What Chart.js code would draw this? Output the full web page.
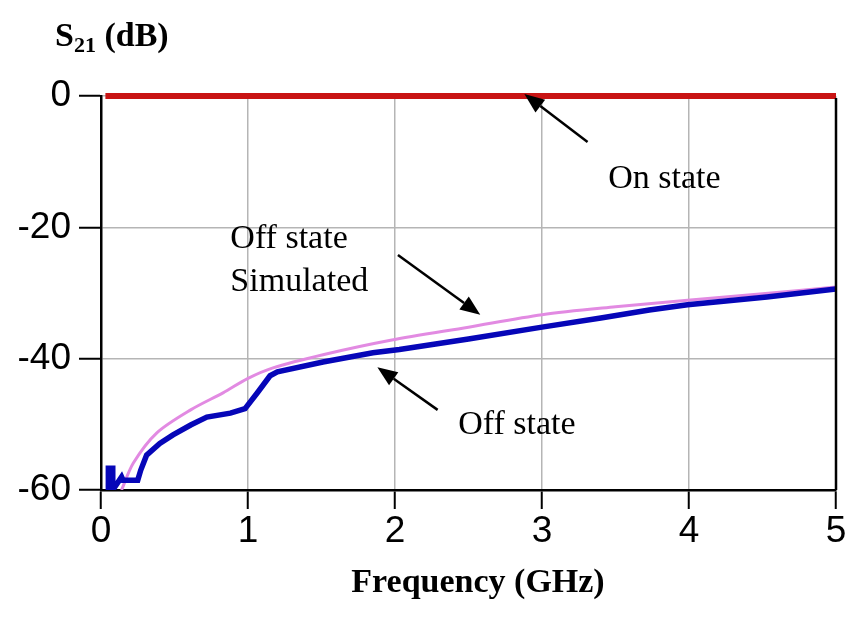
<!DOCTYPE html>
<html lang="en">
  <head>
    <title>S21 vs frequency</title>
    <meta charset="UTF-8" />
    <meta name="viewport" content="width=device-width" />
    <script src="https://cdn.jsdelivr.net/npm/chart.js"></script>
    <style>
      html, body { margin: 0; padding: 0; background: #fff; }
      .block { width: 845px; height: 619px; }
    </style>
  </head>
  <body>
    <div class="block">
      <canvas id="chart"></canvas>
    </div>

    <script>
      // data (GHz, dB)
      const onFreq = [0.03, 5];
      const onS21 = [0, 0];

      const simFreq = [0.14, 0.22, 0.38, 0.61, 0.83, 1.0, 1.17, 1.51, 1.97, 2.5, 3.0, 3.5, 3.99, 4.5, 5.0];
      const simS21 = [-60, -55.9, -51.3, -47.8, -45.2, -43.0, -41.4, -39.4, -37.2, -35.2, -33.3, -32.1, -31.1, -30.1, -29.1];

      const offFreq = [0.05, 0.05, 0.08, 0.08, 0.14, 0.15, 0.25, 0.27, 0.31, 0.4, 0.49, 0.61, 0.72, 0.88, 0.98, 1.06, 1.15, 1.2, 1.51, 1.85, 2.03, 2.5, 3.0, 3.4, 3.73, 3.99, 4.53, 5.0];
      const offS21 = [-60, -56.7, -56.7, -60, -58, -58.5, -58.5, -57, -54.7, -52.9, -51.6, -50.1, -48.9, -48.3, -47.6, -45.3, -42.6, -42.0, -40.5, -39.1, -38.6, -37.0, -35.2, -33.8, -32.6, -31.8, -30.6, -29.4];

      const xTicks = [0, 1, 2, 3, 4, 5];
      const yTicks = [0, -20, -40, -60];

      // labels and arrows in data units
      const notes = [
        { text: 'On state', x: 3.45, y: -14.0 },
        { text: 'Off state', x: 0.88, y: -23.2 },
        { text: 'Simulated', x: 0.88, y: -29.7 },
        { text: 'Off state', x: 2.43, y: -51.5 },
      ];
      const arrows = [
        { from: [3.31, -7.0], to: [2.88, 0.3] },
        { from: [2.02, -24.2], to: [2.58, -33.3] },
        { from: [2.29, -47.8], to: [1.88, -41.3] },
      ];

      const toPts = (xs, ys) => xs.map((x, i) => ({ x: x, y: ys[i] }));

      const annotate = {
        id: 'annotate',
        afterDraw(chart) {
          const c = chart.ctx;
          const xs = chart.scales.x;
          const ys = chart.scales.y;
          const area = chart.chartArea;
          c.save();
          // right frame line
          c.strokeStyle = '#000';
          c.lineWidth = 2.5;
          c.beginPath();
          c.moveTo(area.right, area.top + 2);
          c.lineTo(area.right, area.bottom);
          c.stroke();

          // axis titles
          c.fillStyle = '#000';
          c.textBaseline = 'alphabetic';
          c.font = 'bold 34px "Liberation Serif"';
          c.textAlign = 'left';
          c.fillText('S', 55, 46);
          const sw = c.measureText('S').width;
          c.font = 'bold 22px "Liberation Serif"';
          c.fillText('21', 55 + sw, 52);
          const nw = c.measureText('21').width;
          c.font = 'bold 34px "Liberation Serif"';
          c.fillText(' (dB)', 55 + sw + nw, 46);

          c.font = 'bold 34px "Liberation Serif"';
          c.textAlign = 'center';
          c.fillText('Frequency (GHz)', 478, 592);

          // notes
          c.font = '34px "Liberation Serif"';
          c.textAlign = 'left';
          notes.forEach((n) => {
            c.fillText(n.text, xs.getPixelForValue(n.x), ys.getPixelForValue(n.y));
          });

          // arrows
          c.lineWidth = 2.5;
          arrows.forEach((a) => {
            const x0 = xs.getPixelForValue(a.from[0]);
            const y0 = ys.getPixelForValue(a.from[1]);
            const x1 = xs.getPixelForValue(a.to[0]);
            const y1 = ys.getPixelForValue(a.to[1]);
            const ang = Math.atan2(y1 - y0, x1 - x0);
            const len = 20;
            const bx = x1 - len * Math.cos(ang);
            const by = y1 - len * Math.sin(ang);
            c.beginPath();
            c.moveTo(x0, y0);
            c.lineTo(bx, by);
            c.stroke();
            c.beginPath();
            c.moveTo(x1, y1);
            c.lineTo(bx + 8 * Math.sin(ang), by - 8 * Math.cos(ang));
            c.lineTo(bx - 8 * Math.sin(ang), by + 8 * Math.cos(ang));
            c.closePath();
            c.fill();
          });
          c.restore();
        },
      };

      const ctx = document.getElementById('chart').getContext('2d');
      const chart = new Chart(ctx, {
        type: 'line',
        data: {
          datasets: [
            {
              label: 'Off state',
              data: toPts(offFreq, offS21),
              borderColor: '#0606b8',
              borderWidth: 5.5,
              pointRadius: 0,
              tension: 0,
            },
            {
              label: 'Off state simulated',
              data: toPts(simFreq, simS21),
              borderColor: '#e28ae2',
              borderWidth: 3,
              pointRadius: 0,
              tension: 0.3,
            },
            {
              label: 'On state',
              data: toPts(onFreq, onS21),
              borderColor: '#c81414',
              borderWidth: 6,
              pointRadius: 0,
              tension: 0,
              clip: false,
            },
          ],
        },
        options: {
          responsive: true,
          maintainAspectRatio: false,
          animation: false,
          layout: { padding: { left: 0, right: 9, top: 96, bottom: 0 } },
          plugins: {
            legend: { display: false },
            tooltip: { enabled: false },
          },
          scales: {
            x: {
              type: 'linear',
              min: 0,
              max: 5,
              afterBuildTicks: (s) => { s.ticks = xTicks.map((v) => ({ value: v })); },
              afterFit: (s) => { s.height = 129; s.paddingLeft = 0; s.paddingRight = 0; },
              grid: { color: '#b5b5b5', lineWidth: 1.5, tickColor: '#000', tickLength: 19, tickWidth: 2 },
              border: { color: '#000', width: 2.5 },
              ticks: {
                color: '#000',
                padding: 1,
                font: { family: '"Liberation Sans"', size: 37 },
              },
            },
            y: {
              min: -60,
              max: 0,
              afterBuildTicks: (s) => { s.ticks = yTicks.map((v) => ({ value: v })); },
              afterFit: (s) => { s.width = 101; s.paddingTop = 0; s.paddingBottom = 0; },
              grid: { color: '#b5b5b5', lineWidth: 1.5, tickColor: '#000', tickLength: 22, tickWidth: 2 },
              border: { color: '#000', width: 2.5 },
              ticks: {
                color: '#000',
                padding: 8,
                font: { family: '"Liberation Sans"', size: 37 },
              },
            },
          },
        },
        plugins: [annotate],
      });
    </script>
  </body>
</html>
